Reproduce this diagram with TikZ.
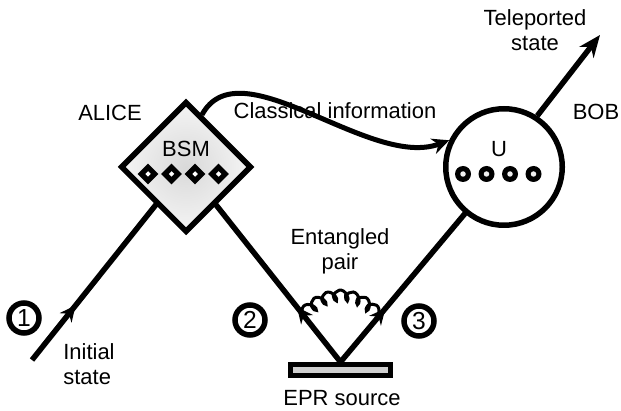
\documentclass[tikz,border=0pt]{standalone}
\usepackage{fontspec}
\setmainfont{Liberation Sans}
\usetikzlibrary{arrows.meta,calc,shapes.geometric,decorations.pathmorphing,decorations.markings}
\tikzset{
  beam/.style={line width=0.11cm, black, shorten >=-0.05cm},
  midarr/.style={postaction={decorate, decoration={markings,
      mark=at position 1.4cm with {\arrow{Stealth[length=0.32cm,width=0.3cm]}}}}},
  clarr/.style={-{Stealth[length=0.34cm,width=0.32cm]}, line width=0.1cm},
  outarr/.style={-{Stealth[length=0.44cm,width=0.36cm]}, line width=0.11cm},
  bsmbox/.style={diamond, draw, line width=0.11cm, aspect=1, inner sep=0pt,
              minimum width=2.62cm, minimum height=2.62cm, inner color=gray!30, outer color=gray!8},
  ucirc/.style={circle, draw, line width=0.11cm, fill=white, minimum size=2.33cm, inner sep=0pt},
  eprbox/.style={rectangle, draw, line width=0.1cm, fill=gray!38,
              minimum width=2.0cm, minimum height=0.22cm, inner sep=0pt},
  sdia/.style={diamond, fill=black, minimum size=0.42cm, inner sep=0pt,
              path picture={\fill[white] (path picture bounding box.center) +(-0.055,0) -- +(0,0.055)
                -- +(0.055,0) -- +(0,-0.055) -- cycle;}},
  sring/.style={circle, fill=black, minimum size=0.32cm, inner sep=0pt,
              path picture={\fill[gray!12] (path picture bounding box.center) circle (0.055);}},
  numc/.style={circle, draw, line width=0.11cm, minimum size=0.6cm, inner sep=0pt,
              font=\fontsize{14}{16}\selectfont},
  txt/.style={font=\fontsize{12.5}{14.2}\selectfont, align=center, inner sep=0pt},
  wavy/.style={line width=0.06cm, decorate, decoration={coil, aspect=0.6, amplitude=0.12cm, segment length=0.24cm}},
}

\begin{document}
\begin{tikzpicture}
  \useasboundingbox (0,0) rectangle (12.42,8.2);
  % boxes
  \node[bsmbox] (bsm) at (3.72,4.86) {};
  \node[ucirc] (bob) at (10.08,4.86) {};
  \node[eprbox] (epr) at (6.81,0.8) {};
  \coordinate (init) at (0.64,1.0);
  \coordinate (tele) at (12.0,7.5);
  % beams
  \draw[beam, midarr] (init) -- (bsm);
  \draw[beam, midarr] (epr.north) -- (bsm);
  \draw[beam, midarr] (epr.north) -- (bob);
  \draw[outarr] (bob.57) -- (tele);
  \draw[clarr] (bsm.73) .. controls (4.8,7.3) and (7.4,4.8) .. (bob.154);
  \draw[wavy] ($(epr.north)!1.2cm!(bsm)$) to[out=45,in=135,looseness=1.2] ($(epr.north)!1.2cm!(bob)$);
  % inside BSM and U
  \node[txt] (bsmt) at (3.72,5.22) {BSM};
  \node[sdia] (d1) at (2.96,4.72) {}; \node[sdia] (d2) at (3.43,4.72) {};
  \node[sdia] (d3) at (3.9,4.72) {}; \node[sdia] (d4) at (4.37,4.72) {};
  \node[txt] (ut) at (9.98,5.22) {U};
  \node[sring] (r1) at (9.26,4.72) {}; \node[sring] (r2) at (9.73,4.72) {};
  \node[sring] (r3) at (10.2,4.72) {}; \node[sring] (r4) at (10.67,4.72) {};
  % labels
  \node[txt] (alice) at (2.2,5.94) {ALICE};
  \node[txt] (bobl) at (11.92,5.96) {BOB};
  \node[txt] (clas) at (6.7,5.98) {Classical information};
  \node[txt] (telet) at (10.7,7.6) {Teleported\\state};
  \node[txt, align=left, anchor=west] (initt) at (1.26,0.92) {Initial\\state};
  \node[txt] (entt) at (6.8,3.18) {Entangled\\pair};
  \node[txt] (eprt) at (6.84,0.24) {EPR source};
  \node[numc] (n1) at (0.48,1.84) {1};
  \node[numc] (n2) at (5.0,1.8) {2};
  \node[numc] (n3) at (8.38,1.78) {3};
\end{tikzpicture}
\end{document}
